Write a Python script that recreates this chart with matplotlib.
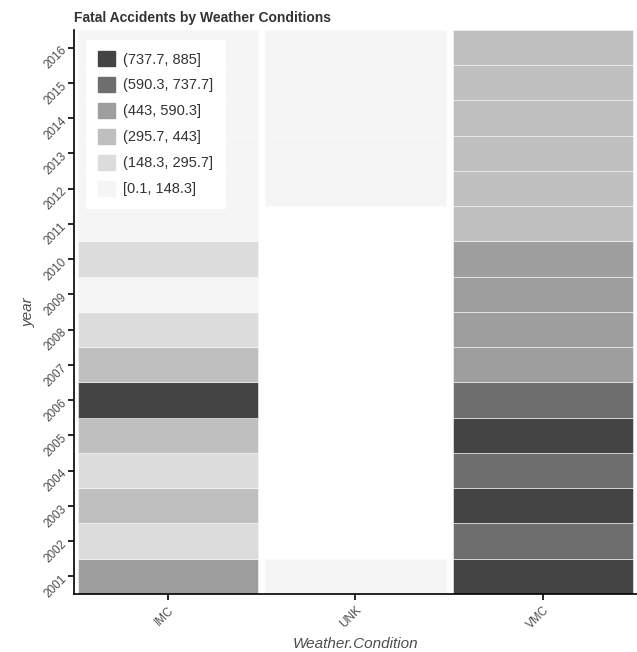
import matplotlib
matplotlib.use("Agg")
import matplotlib.pyplot as plt
from matplotlib.patches import Patch
import numpy as np

plt.rcParams['font.family'] = ['Liberation Sans', 'DejaVu Sans']

conditions = ["IMC", "UNK", "VMC"]
years = list(range(2001, 2017))
# values per year 2001..2016 (None = missing)
imc = [470, 240, 320, 250, 330, 760, 310, 200, 140, 160, 110, 90, 80, 70, 55, 60]
unk = [0.1, None, None, None, None, None, None, None, None, None, None, 5, 4, 3, 3, 2]
vmc = [885, 720, 820, 700, 800, 690, 540, 520, 500, 480, 420, 410, 400, 380, 370, 360]

bin_edges = [0.1, 148.3, 295.7, 443, 590.3, 737.7, 885]
bin_labels = ["[0.1, 148.3]", "(148.3, 295.7]", "(295.7, 443]",
              "(443, 590.3]", "(590.3, 737.7]", "(737.7, 885]"]
bin_colors = ["#f5f5f5", "#dcdcdc", "#bfbfbf", "#9e9e9e", "#6e6e6e", "#444444"]

def bin_index(v):
    for i in range(len(bin_edges) - 1):
        if v <= bin_edges[i + 1]:
            return i
    return len(bin_edges) - 2

fig = plt.figure(figsize=(6.37, 6.52), dpi=100)
ax = fig.add_axes([0.116, 0.089, 0.884, 0.865])

series = [imc, unk, vmc]
for xi, vals in enumerate(series):
    for yi, v in enumerate(vals):
        if v is None:
            continue
        ax.bar(xi, 1.0, bottom=yi - 0.5, width=0.96,
               color=bin_colors[bin_index(v)], edgecolor="#fafafa", linewidth=0.4)

ax.set_xlim(-0.5, 2.5)
ax.set_ylim(-0.5, len(years) - 0.5)
ax.set_xticks(range(len(conditions)))
ax.set_xticklabels(conditions, rotation=45, ha="right", rotation_mode="anchor",
                   fontsize=8.5, color="#4d4d4d")
ax.set_yticks(range(len(years)))
ax.set_yticklabels([str(y) for y in years], rotation=45, ha="right",
                   rotation_mode="anchor", fontsize=8.5, color="#4d4d4d")
ax.tick_params(axis="both", length=4, width=1.2, color="black")
for s in ["top", "right"]:
    ax.spines[s].set_visible(False)
for s in ["left", "bottom"]:
    ax.spines[s].set_linewidth(1.2)
    ax.spines[s].set_color("black")

ax.set_xlabel("Weather.Condition", fontsize=11, style="italic", color="#4d4d4d")
ax.set_ylabel("year", fontsize=11, style="italic", color="#4d4d4d")
ax.set_title("Fatal Accidents by Weather Conditions", fontsize=10, fontweight="bold",
             loc="left", color="#333333", pad=6)

handles = [Patch(facecolor=bin_colors[i], edgecolor=bin_colors[i], label=bin_labels[i])
           for i in range(len(bin_colors) - 1, -1, -1)]
leg = ax.legend(handles=handles, loc="upper left", bbox_to_anchor=(0.009, 0.996),
                frameon=True, fancybox=False, framealpha=1.0, edgecolor="white",
                facecolor="white", fontsize=10.5, handlelength=1.2, handleheight=1.2,
                labelspacing=0.72, borderpad=0.8, handletextpad=0.55)
for t in leg.get_texts():
    t.set_color("#333333")

fig.savefig("out.png", dpi=100)
